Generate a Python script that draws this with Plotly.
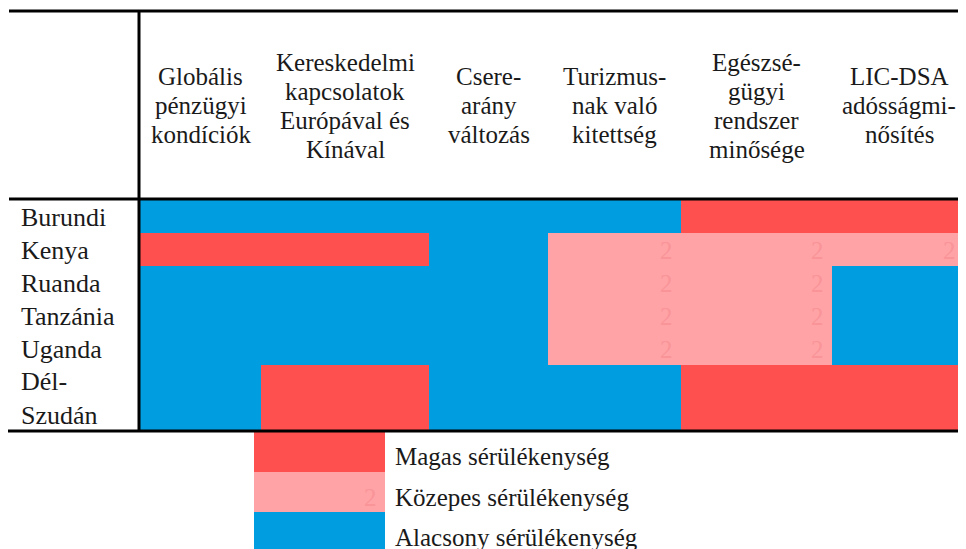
import plotly.graph_objects as go

# ---- data ----
countries = ["Burundi", "Kenya", "Ruanda", "Tanzánia", "Uganda", "Dél-<br>Szudán"]
indicators = [
    ["Globális", "pénzügyi", "kondíciók"],
    ["Kereskedelmi", "kapcsolatok", "Európával és", "Kínával"],
    ["Csere-", "arány", "változás"],
    ["Turizmus-", "nak való", "kitettség"],
    ["Egészsé-", "gügyi", "rendszer", "minősége"],
    ["LIC-DSA", "adósságmi-", "nősítés"],
]
# 3 = high, 2 = medium, 1 = low vulnerability
values = [
    [1, 1, 1, 1, 3, 3],  # Burundi
    [3, 3, 1, 2, 2, 2],  # Kenya
    [1, 1, 1, 2, 2, 1],  # Ruanda
    [1, 1, 1, 2, 2, 1],  # Tanzánia
    [1, 1, 1, 2, 2, 1],  # Uganda
    [1, 3, 1, 1, 3, 3],  # Dél-Szudán
]
legend_labels = ["Magas sérülékenység", "Közepes sérülékenység", "Alacsony sérülékenység"]
legend_values = [3, 2, 1]

# ---- layout constants (page-pixel grid; page has an 8px body margin) ----
OFF = 8
W, H = 966, 549
col_edges = [140, 261, 429, 548, 681, 832, 975]
row_edges = [200, 233, 266, 299, 332, 365, 430]
header_top, header_bottom = 11, 199
header_mid, header_lh = 105.5, 29
label_x = 19
leg_x = [254, 385]
leg_y = [431, 472, 512, 553]

BLUE = "rgb(0,158,224)"
PINK = "rgb(255,163,166)"
RED = "rgb(255,80,80)"
TWO = "rgb(249,148,153)"
colorscale = [[0, BLUE], [0.5, PINK], [1, RED]]
FONT = "Liberation Serif"
TXT = "#1a1a1a"

fig = go.Figure()
fig.add_trace(go.Heatmap(
    z=values, x=col_edges, y=row_edges, zmin=1, zmax=3,
    colorscale=colorscale, showscale=False, hoverinfo="skip", zsmooth=False,
))
fig.add_trace(go.Heatmap(
    z=[[v] for v in legend_values], x=leg_x, y=leg_y, zmin=1, zmax=3,
    colorscale=colorscale, showscale=False, hoverinfo="skip", zsmooth=False,
))

ann = []
# headers (one annotation per line for tight line spacing)
for i, lines in enumerate(indicators):
    n = len(lines)
    for j, t in enumerate(lines):
        ann.append(dict(x=(col_edges[i] + col_edges[i + 1]) / 2 if i < 5 else 899,
                        y=header_mid + (j - (n - 1) / 2) * header_lh,
                        text=t, showarrow=False, xanchor="center", yanchor="middle",
                        font=dict(family=FONT, size=25, color=TXT)))
# row labels
for r, c in enumerate(countries):
    ann.append(dict(x=label_x, y=(row_edges[r] + row_edges[r + 1]) / 2 + 1, text=c, showarrow=False,
                    xanchor="left", yanchor="middle", align="left",
                    font=dict(family=FONT, size=26, color=TXT)))
# faint "2" labels in medium cells
for r, row in enumerate(values):
    for c, v in enumerate(row):
        if v == 2:
            right = col_edges[c + 1] - 6 if c < 5 else W - OFF
            ann.append(dict(x=right, y=(row_edges[r] + row_edges[r + 1]) / 2 + 1,
                            text=str(v), showarrow=False, xanchor="right", yanchor="middle",
                            font=dict(family=FONT, size=25, color=TWO)))
# legend labels
for k, (lab, v) in enumerate(zip(legend_labels, legend_values)):
    ann.append(dict(x=leg_x[1] + 8, y=(leg_y[k] + leg_y[k + 1]) / 2 + 5,
                    text=lab, showarrow=False, xanchor="left", yanchor="middle",
                    font=dict(family=FONT, size=25, color=TXT)))
    if v == 2:
        ann.append(dict(x=leg_x[1] - 6, y=(leg_y[k] + leg_y[k + 1]) / 2 + 5, text=str(v), showarrow=False,
                        xanchor="right", yanchor="middle",
                        font=dict(family=FONT, size=25, color=TWO)))

shapes = [
    dict(type="line", x0=9, x1=W + 10, y0=header_top, y1=header_top, line=dict(color="black", width=3)),
    dict(type="line", x0=9, x1=W + 10, y0=header_bottom, y1=header_bottom, line=dict(color="black", width=3)),
    dict(type="line", x0=7, x1=W + 10, y0=431, y1=431, line=dict(color="black", width=3)),
    dict(type="line", x0=139, x1=139, y0=header_top, y1=431, line=dict(color="black", width=3)),
]

fig.update_layout(
    width=W - 2 * OFF, height=H - OFF, margin=dict(l=0, r=0, t=0, b=0),
    paper_bgcolor="white", plot_bgcolor="white",
    xaxis=dict(range=[OFF, W - OFF], visible=False, fixedrange=True),
    yaxis=dict(range=[H, OFF], visible=False, fixedrange=True),
    annotations=ann, shapes=shapes, showlegend=False,
)
fig.write_html("out.html")
